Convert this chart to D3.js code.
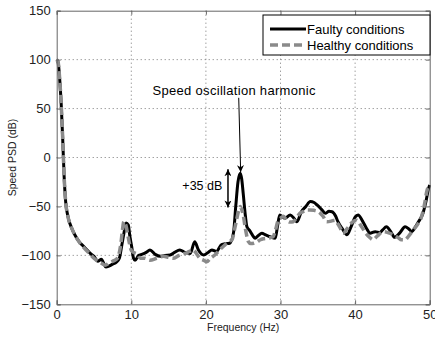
<!DOCTYPE html>
<html>
<head>
<meta charset="utf-8">
<script src="https://cdn.jsdelivr.net/npm/d3@7"></script>
<style>
  html, body { margin: 0; padding: 0; background: #fff; overflow: hidden; }
  svg { display: block; font-family: "Liberation Sans", Arial, sans-serif; }
</style>
<script>
// Speed PSD, faulty vs healthy conditions
const faultyFreq = [0, 0.2, 0.4, 0.6, 0.8, 1.0, 1.2, 1.5, 2.0, 2.5, 3.0, 3.5, 4.0, 4.5, 5.0, 5.5, 6.0, 6.3, 6.6, 7.0, 7.5, 8.0, 8.4, 8.7, 9.0, 9.3, 9.6, 9.8, 10.05, 10.3, 10.5, 11.0, 11.4, 12.0, 12.5, 13.2, 13.9, 14.5, 15.2, 15.8, 16.5, 17.2, 17.9, 18.5, 19.0, 19.7, 20.3, 20.8, 21.4, 22.1, 22.7, 23.2, 23.7, 24.0, 24.3, 24.6, 24.8, 25.0, 25.3, 25.5, 25.9, 26.3, 26.6, 27.0, 27.5, 28.0, 28.6, 29.3, 29.6, 29.9, 30.3, 30.6, 31.3, 31.8, 32.2, 32.8, 33.4, 34.0, 34.5, 34.9, 35.5, 36.0, 36.5, 36.9, 37.4, 37.7, 38.3, 38.9, 39.5, 40.0, 40.4, 41.0, 41.5, 42.0, 42.7, 43.3, 43.7, 44.2, 44.8, 45.3, 46.0, 46.7, 47.2, 47.6, 48.0, 48.5, 49.1, 49.5, 49.8, 50];
const faultyPsd = [100, 97, 80, 55, 20, -20, -45, -60, -72, -80, -86, -90, -94, -98, -101, -106, -104, -108, -112, -111, -109, -107, -103, -91, -78, -67, -69, -80, -91, -103, -105, -100, -99, -97, -94.5, -99, -101, -100, -99.6, -97, -94.5, -97, -98, -86, -94.5, -99.6, -97, -94.5, -96, -89, -88, -87.6, -77, -50, -25, -16, -22, -36.6, -60, -70.7, -75, -80, -82.5, -80, -77.4, -79, -81, -82.5, -70, -58.7, -61, -62, -58.7, -62, -65.6, -55.4, -50, -45, -46, -48.5, -53, -57, -55, -55.4, -60, -65.6, -73, -79, -70, -61, -58.7, -65, -72, -77.4, -75.8, -76.8, -74, -70.7, -76, -81.5, -77, -70.7, -73, -75.8, -72, -65.6, -57, -45, -33, -28];

const healthyFreq = [0, 0.2, 0.4, 0.6, 0.8, 1.0, 1.2, 1.5, 2.0, 2.5, 3.0, 3.5, 4.0, 4.5, 5.0, 5.5, 6.0, 6.5, 7.0, 7.5, 8.0, 8.3, 8.6, 8.8, 9.0, 9.3, 9.6, 10.0, 10.3, 10.8, 11.2, 11.8, 12.5, 13.4, 14.3, 15.0, 15.6, 16.4, 17.2, 17.8, 18.3, 18.8, 19.2, 19.7, 20.1, 20.6, 21.2, 21.9, 22.6, 23.1, 23.5, 23.8, 24.1, 24.4, 24.6, 24.8, 25.0, 25.3, 25.7, 26.0, 26.4, 26.9, 27.3, 27.7, 28.1, 28.6, 29.0, 29.3, 29.7, 30.0, 30.4, 30.8, 31.3, 31.7, 32.2, 32.6, 33.1, 33.5, 33.9, 34.5, 35.1, 35.7, 36.2, 36.8, 37.3, 37.7, 38.0, 38.4, 38.9, 39.5, 40.2, 40.8, 41.5, 42.0, 42.4, 43.0, 43.8, 44.5, 45.1, 45.8, 46.2, 46.7, 47.2, 47.8, 48.4, 48.9, 49.3, 49.6, 50];
const healthyPsd = [100, 97, 80, 55, 20, -20, -45, -60, -72, -80, -86, -91, -95, -99, -103, -106, -108, -110, -108, -106, -104, -100, -88, -75, -65.5, -70, -82, -95, -97, -99, -103, -103, -105, -103, -101, -102, -103, -100, -98, -96, -94.5, -99, -103, -105, -106.5, -103, -99.6, -94, -89, -86, -84, -75, -64, -54, -50, -53, -58.7, -73, -86, -88, -87.6, -86, -84, -83, -82.5, -82, -81, -75, -64, -62, -60, -64, -66, -65.6, -61, -57, -55, -53.6, -53.6, -54, -55.4, -60, -65.6, -65, -64, -68, -72, -77.4, -73, -67, -64, -70, -78, -82, -84, -80, -75.8, -77, -79, -82, -84, -84, -80, -74, -68, -60.5, -48, -35, -28];

const xTicks = [0, 10, 20, 30, 40, 50];
const yTicks = [-150, -100, -50, 0, 50, 100, 150];
const legendLabels = ['Faulty conditions', 'Healthy conditions'];

document.addEventListener('DOMContentLoaded', function() {
    const svg = d3.select('#chart');
    const margin = { top: 10.7, right: 5.3, bottom: 34.7, left: 56.7 };
    const width = 435, height = 339;
    const innerWidth = width - margin.left - margin.right;
    const innerHeight = height - margin.top - margin.bottom;

    const x = d3.scaleLinear().domain([0, 50]).range([0, innerWidth]);
    const y = d3.scaleLinear().domain([-150, 150]).range([innerHeight, 0]);

    const g = svg.append('g').attr('transform', `translate(${margin.left},${margin.top})`);

    // Dotted grid
    g.append('g').selectAll('line').data(xTicks.slice(1, -1)).enter().append('line')
        .attr('x1', d => x(d)).attr('x2', d => x(d))
        .attr('y1', 0).attr('y2', innerHeight)
        .attr('stroke', '#777').attr('stroke-width', 1).attr('stroke-dasharray', '1,3');
    g.append('g').selectAll('line').data(yTicks.slice(1, -1)).enter().append('line')
        .attr('x1', 0).attr('x2', innerWidth)
        .attr('y1', d => y(d)).attr('y2', d => y(d))
        .attr('stroke', '#777').attr('stroke-width', 1).attr('stroke-dasharray', '1,3');

    // Curves
    const line = d3.line().x(d => x(d[0])).y(d => y(d[1])).curve(d3.curveMonotoneX);
    const faulty = faultyFreq.map((f, i) => [f, faultyPsd[i]]);
    const healthy = healthyFreq.map((f, i) => [f, healthyPsd[i]]);

    g.append('path').datum(faulty)
        .attr('fill', 'none').attr('stroke', '#000').attr('stroke-width', 3)
        .attr('stroke-linejoin', 'round')
        .attr('d', line);
    g.append('path').datum(healthy)
        .attr('fill', 'none').attr('stroke', '#8a8a8a').attr('stroke-width', 3.5)
        .attr('stroke-dasharray', '8,4')
        .attr('d', line);

    // Axes box
    const xAxis = d3.axisBottom(x).tickValues(xTicks).tickSize(-4).tickPadding(5);
    const yAxis = d3.axisLeft(y).tickValues(yTicks).tickSize(-4).tickPadding(6);

    const xg = g.append('g').attr('transform', `translate(0,${innerHeight})`)
        .call(xAxis).attr('font-size', 13).attr('font-family', null);
    const yg = g.append('g').call(yAxis).attr('font-size', 13).attr('font-family', null);
    const tg = g.append('g').call(d3.axisTop(x).tickValues(xTicks).tickSize(-4));
    const rg = g.append('g').attr('transform', `translate(${innerWidth},0)`)
        .call(d3.axisRight(y).tickValues(yTicks).tickSize(-4));
    tg.selectAll('text').remove();
    rg.selectAll('text').remove();

    g.selectAll('.domain').attr('stroke', '#666');
    g.selectAll('.tick line').attr('stroke', '#666');
    xg.selectAll('text').attr('dy', null).attr('y', 15).attr('fill', '#222');
    yg.selectAll('text').attr('fill', '#222');

    // Axis labels
    svg.append('text')
        .attr('x', margin.left + innerWidth / 2).attr('y', 331)
        .attr('text-anchor', 'middle').attr('font-size', 10.5).attr('fill', '#222')
        .text('Frequency (Hz)');
    svg.append('text')
        .attr('transform', `translate(16,${margin.top + innerHeight / 2}) rotate(-90)`)
        .attr('text-anchor', 'middle').attr('font-size', 10.5).attr('fill', '#222')
        .text('Speed PSD (dB)');

    // Legend
    const legend = svg.append('g').attr('transform', 'translate(263,15)');
    legend.append('rect').attr('width', 167).attr('height', 40)
        .attr('fill', '#fff').attr('stroke', '#000').attr('stroke-width', 1);
    const legendStyles = [
        { stroke: '#000', width: 3, dash: null },
        { stroke: '#8a8a8a', width: 3.5, dash: '8,4' }
    ];
    legendLabels.forEach((label, i) => {
        const yy = 14 + i * 16;
        legend.append('line').attr('x1', 7).attr('x2', 43).attr('y1', yy).attr('y2', yy)
            .attr('stroke', legendStyles[i].stroke).attr('stroke-width', legendStyles[i].width)
            .attr('stroke-dasharray', legendStyles[i].dash);
        legend.append('text').attr('x', 44).attr('y', yy + 4.5)
            .attr('font-size', 13).attr('fill', '#000').text(label);
    });

    // Annotations
    svg.append('defs').append('marker')
        .attr('id', 'arrow').attr('viewBox', '0 0 10 10')
        .attr('refX', 10).attr('refY', 5)
        .attr('markerWidth', 7).attr('markerHeight', 7)
        .attr('markerUnits', 'userSpaceOnUse').attr('orient', 'auto-start-reverse')
        .append('path').attr('d', 'M0,0 L10,5 L0,10 L3,5 Z').attr('fill', '#000');

    g.append('text')
        .attr('x', x(12.85)).attr('y', y(64))
        .attr('font-size', 13).attr('letter-spacing', 0.3).attr('fill', '#000')
        .text('Speed oscillation harmonic');
    g.append('line')
        .attr('x1', x(24.4)).attr('y1', y(61))
        .attr('x2', x(24.66)).attr('y2', y(-15))
        .attr('stroke', '#000').attr('stroke-width', 1)
        .attr('marker-end', 'url(#arrow)');

    g.append('line')
        .attr('x1', x(22.96)).attr('y1', y(-12))
        .attr('x2', x(22.96)).attr('y2', y(-51))
        .attr('stroke', '#000').attr('stroke-width', 1.5)
        .attr('marker-start', 'url(#arrow)').attr('marker-end', 'url(#arrow)');
    g.append('text')
        .attr('x', x(22.2)).attr('y', y(-33))
        .attr('text-anchor', 'end')
        .attr('font-size', 12.5).attr('fill', '#000')
        .text('+35 dB');
});
</script>
</head>
<body>
<svg id="chart" width="435" height="339"></svg>
</body>
</html>
